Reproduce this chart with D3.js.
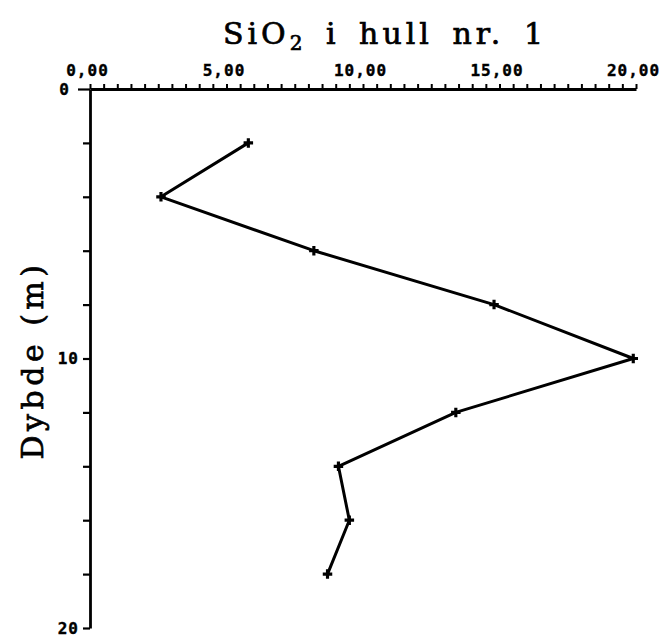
<!DOCTYPE html>
<html>
<head>
<meta charset="utf-8">
<script src="https://cdn.jsdelivr.net/npm/d3@7"></script>
<style>
  html, body { margin: 0; padding: 0; background: #fff; }
  svg { display: block; }
</style>
</head>
<body>
<svg id="chart" width="662" height="640"></svg>
<script>
// ---- data ----
const depths = [2, 4, 6, 8, 10, 12, 14, 16, 18];           // Dybde (m)
const sio2   = [5.8, 2.6, 8.2, 14.8, 19.9, 13.4, 9.1, 9.5, 8.7]; // SiO2
const xTicks = d3.range(0, 20.001, 0.5);
const xLabelValues = [0, 5, 10, 15, 20];
const yTicks = d3.range(0, 20.001, 2);
const yLabelValues = [0, 10, 20];
const titleMain = "SiO";
const titleSub = "2";
const titleRest = " i hull nr. 1";
const yTitle = "Dybde (m)";

// ---- chart ----
const svg = d3.select("#chart");
const x = d3.scaleLinear().domain([0, 20]).range([90, 636]);
const y = d3.scaleLinear().domain([0, 20]).range([89, 628]);

const fmt = v => d3.format(".2f")(v).replace(".", ",");

// top x axis
const xAxis = d3.axisTop(x)
  .tickValues(xTicks)
  .tickSize(5)
  .tickSizeOuter(0)
  .tickFormat(d => xLabelValues.includes(d) ? fmt(d) : "");
const gx = svg.append("g").attr("transform", `translate(0,${y(0)})`).call(xAxis);
gx.select(".domain").attr("stroke", "#000").attr("stroke-width", 2.8);
gx.selectAll(".tick line").attr("stroke", "#000").attr("stroke-width", 2);
gx.selectAll(".tick text")
  .attr("font-family", "'DejaVu Sans Mono', monospace")
  .attr("font-weight", "bold")
  .attr("font-size", 16)
  .attr("letter-spacing", "1px")
  .attr("fill", "#000")
  .attr("stroke", "#000")
  .attr("stroke-width", 0.4)
  .attr("dy", 0)
  .attr("y", -13)
  .attr("dx", -3);

// left y axis
const yAxis = d3.axisLeft(y)
  .tickValues(yTicks)
  .tickSize(7)
  .tickSizeOuter(0)
  .tickFormat(d => yLabelValues.includes(d) ? String(d) : "");
const gy = svg.append("g").attr("transform", `translate(${x(0)},0)`).call(yAxis);
gy.select(".domain").attr("stroke", "#000").attr("stroke-width", 2.8);
gy.selectAll(".tick line").attr("stroke", "#000").attr("stroke-width", 2.2);
gy.selectAll(".tick").filter(d => d === 0).select("line").attr("x2", -12);
gy.selectAll(".tick text")
  .attr("font-family", "'DejaVu Sans Mono', monospace")
  .attr("font-weight", "bold")
  .attr("font-size", 16)
  .attr("letter-spacing", "1px")
  .attr("fill", "#000")
  .attr("stroke", "#000")
  .attr("stroke-width", 0.4)
  .attr("x", d => d === 0 ? -20 : -11);

// line
const line = d3.line().x((d, i) => x(sio2[i])).y(d => y(d));
svg.append("path")
  .datum(depths)
  .attr("d", line)
  .attr("fill", "none")
  .attr("stroke", "#000")
  .attr("stroke-width", 3)
  .attr("stroke-linejoin", "round");

// markers
svg.selectAll("path.mark")
  .data(depths)
  .join("path")
  .attr("class", "mark")
  .attr("transform", (d, i) => `translate(${x(sio2[i])},${y(d)})`)
  .attr("d", d3.symbol(d3.symbolCross, 50))
  .attr("fill", "#000");

// title
const t = svg.append("text")
  .attr("x", 385)
  .attr("y", 44)
  .attr("text-anchor", "middle")
  .attr("font-family", "'DejaVu Serif', serif")
  .attr("font-size", 30)
  .attr("letter-spacing", "4px")
  .attr("word-spacing", "6px")
  .attr("fill", "#000")
  .attr("stroke", "#000")
  .attr("stroke-width", 0.7);
t.append("tspan").text(titleMain);
t.append("tspan").attr("font-size", 20).attr("dy", 6).text(titleSub);
t.append("tspan").attr("dy", -6).text(titleRest);

// y title
svg.append("text")
  .attr("transform", `translate(43,360) rotate(-90)`)
  .attr("text-anchor", "middle")
  .attr("font-family", "'DejaVu Serif', serif")
  .attr("font-size", 30)
  .attr("letter-spacing", "4.5px")
  .attr("fill", "#000")
  .attr("stroke", "#000")
  .attr("stroke-width", 0.7)
  .text(yTitle);
</script>
</body>
</html>
